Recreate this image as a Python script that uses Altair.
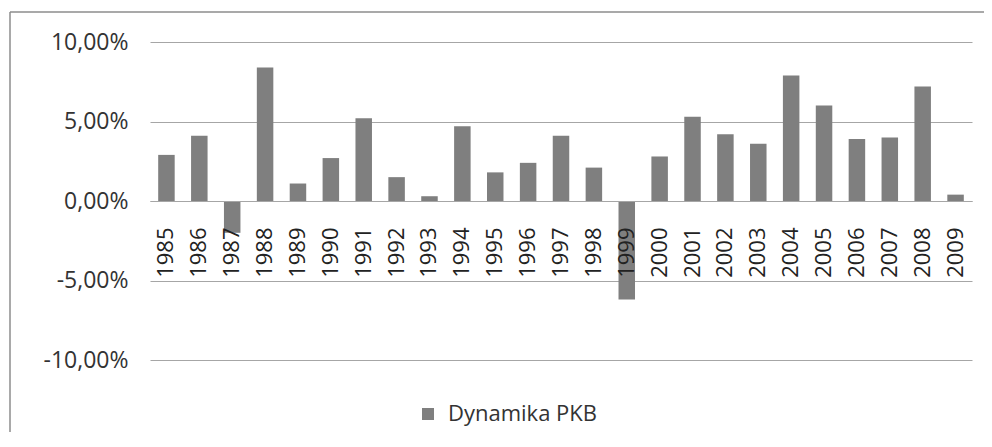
import altair as alt
import pandas as pd

years = [str(y) for y in range(1985, 2010)]
values = [2.9, 4.1, -2.0, 8.4, 1.1, 2.7, 5.2, 1.5, 0.3, 4.7, 1.8, 2.4, 4.1, 2.1,
          -6.2, 2.8, 5.3, 4.2, 3.6, 7.9, 6.0, 3.9, 4.0, 7.2, 0.4]
series_name = "Dynamika PKB"
y_ticks = [-10, -5, 0, 5, 10]

df = pd.DataFrame({"year": years, "value": values, "series": series_name})

FONT = "Open Sans"
TEXT = "#333333"
GRID = "#a6a6a6"
FRAME = "#8c8c8c"

PAD_L, PAD_T, PAD_R, PAD_B = 142, 34, 12, 72
W, H = 822, 318

label_expr = ("(datum.value < 0 ? '-' : '') + "
              "replace(format(abs(datum.value), '.2f'), '.', ',') + '%'")

bars = alt.Chart(df).mark_bar(size=16.5).encode(
    x=alt.X("year:N", sort=years, title=None,
            scale=alt.Scale(paddingInner=0.5, paddingOuter=0.25),
            axis=alt.Axis(labelAngle=270, offset=-159, domainColor=GRID,
                          domainWidth=1, ticks=False, labelPadding=26,
                          labelFont=FONT, labelFontSize=22, labelColor="#222222",
                          zindex=1, grid=False)),
    y=alt.Y("value:Q", title=None,
            scale=alt.Scale(domain=[-10, 10], nice=False, zero=True),
            axis=alt.Axis(values=y_ticks, labelExpr=label_expr, grid=True,
                          gridColor=GRID, gridWidth=1, domain=False, ticks=False,
                          labelPadding=22, labelFont=FONT, labelFontSize=23,
                          labelColor=TEXT, zindex=0)),
    color=alt.Color("series:N", title=None,
                    scale=alt.Scale(range=["#7f7f7f"]),
                    legend=alt.Legend(orient="none", legendX=267, legendY=361,
                                      symbolType="square", symbolSize=144,
                                      symbolStrokeWidth=0, labelFont=FONT,
                                      labelFontSize=22, labelColor=TEXT,
                                      padding=0, labelOffset=9)),
)

frame_src = alt.Chart(pd.DataFrame({"k": [0]}))
frame_top = frame_src.mark_rule(stroke=FRAME, strokeWidth=1.5).encode(
    x=alt.value(-140), x2=alt.value(W + PAD_R), y=alt.value(-30)
)
frame_left = frame_src.mark_rule(stroke=FRAME, strokeWidth=1.5).encode(
    x=alt.value(-140), y=alt.value(-30), y2=alt.value(H + PAD_B)
)

chart = alt.layer(frame_top, frame_left, bars).properties(
    width=W, height=H,
    autosize=alt.AutoSizeParams(type="none"),
    padding={"left": PAD_L, "top": PAD_T, "right": PAD_R, "bottom": PAD_B},
    background="white",
).configure_view(stroke=None)

chart.save("out.html", embed_options={"renderer": "svg", "actions": False})
